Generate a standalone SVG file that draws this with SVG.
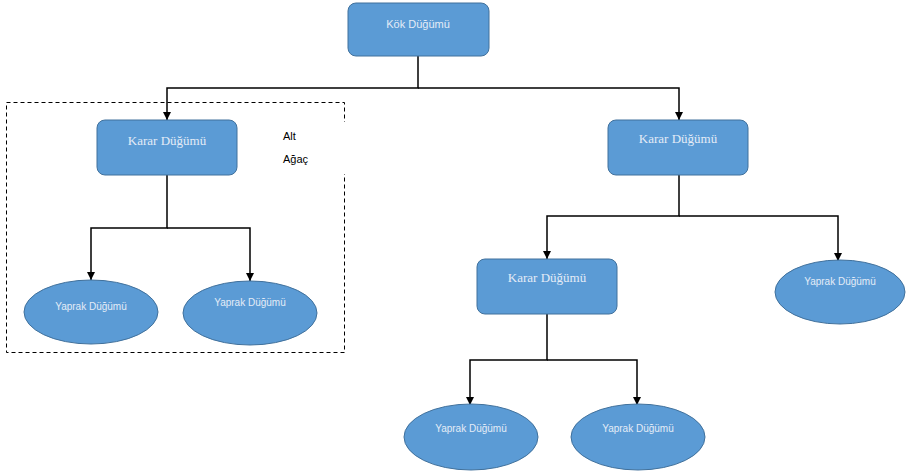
<svg xmlns="http://www.w3.org/2000/svg" width="907" height="472" viewBox="0 0 907 472">
<defs>
<marker id="arr" viewBox="0 0 10 10" refX="10" refY="5" markerWidth="8" markerHeight="8" markerUnits="userSpaceOnUse" orient="auto">
<path d="M0,0 L10,5 L0,10 z" fill="#000"/>
</marker>
<style>
.box{fill:#5B9BD5;stroke:#41719C;stroke-width:1}
.leaf{fill:#5B9BD5;stroke:#41719C;stroke-width:1}
.c{fill:none;stroke:#000;stroke-width:1.5}
.a{marker-end:url(#arr)}
.t1{font-family:"Liberation Serif",serif;font-size:13px;fill:#e4ecf7;text-anchor:middle}
.t0{font-family:"Liberation Sans",sans-serif;font-size:11px;fill:#e4ecf7;text-anchor:middle}
.tl{font-family:"Liberation Sans",sans-serif;font-size:10px;fill:#e4ecf7;text-anchor:middle}
.sub{font-family:"Liberation Sans",sans-serif;font-size:11px;fill:#000}
</style>
</defs>
<rect width="907" height="472" fill="#fff"/>
<g id="subtree">
<rect x="6.5" y="102.5" width="338" height="250" fill="none" stroke="#000" stroke-width="1" stroke-dasharray="4,3"/>
<rect x="272" y="122" width="76" height="52" fill="#fff"/>
<text class="sub" x="283" y="140">Alt</text>
<text class="sub" x="283" y="163">Ağaç</text>
</g>
<g id="connectors">
<path class="c a" d="M418,56 V88 H167 V120"/>
<path class="c a" d="M418,88 H679 V120"/>
<path class="c a" d="M167,175 V228 H91 V280"/>
<path class="c a" d="M167,228 H250 V281"/>
<path class="c a" d="M679,175 V216 H547 V259"/>
<path class="c a" d="M679,216 H838 V261"/>
<path class="c a" d="M547,314 V360 H470 V405"/>
<path class="c a" d="M547,360 H637 V405"/>
</g>
<g id="root">
<rect class="box" x="348" y="3" width="141" height="53" rx="8"/>
<text class="t0" x="418" y="28">Kök Düğümü</text>
</g>
<g id="karar-left">
<rect class="box" x="97" y="120" width="140" height="55" rx="8"/>
<text class="t1" x="167" y="145">Karar Düğümü</text>
</g>
<g id="karar-right">
<rect class="box" x="608" y="120" width="140" height="55" rx="8"/>
<text class="t1" x="678" y="143">Karar Düğümü</text>
</g>
<g id="karar-mid">
<rect class="box" x="477" y="259" width="140" height="55" rx="8"/>
<text class="t1" x="547" y="282">Karar Düğümü</text>
</g>
<g id="leaf1">
<ellipse class="leaf" cx="91" cy="312" rx="67" ry="32"/>
<text class="tl" x="91" y="310">Yaprak Düğümü</text>
</g>
<g id="leaf2">
<ellipse class="leaf" cx="250" cy="313" rx="67" ry="32"/>
<text class="tl" x="250" y="306">Yaprak Düğümü</text>
</g>
<g id="leaf3">
<ellipse class="leaf" cx="840" cy="292" rx="65" ry="32"/>
<text class="tl" x="840" y="285">Yaprak Düğümü</text>
</g>
<g id="leaf4">
<ellipse class="leaf" cx="471" cy="437" rx="67" ry="33"/>
<text class="tl" x="471" y="432">Yaprak Düğümü</text>
</g>
<g id="leaf5">
<ellipse class="leaf" cx="638" cy="437" rx="67" ry="33"/>
<text class="tl" x="638" y="432">Yaprak Düğümü</text>
</g>
</svg>
